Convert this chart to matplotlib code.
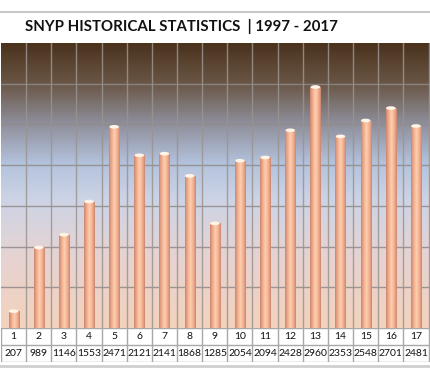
"""
SNYP historical statistics, 1997 - 2017: column chart with a data table under it.
"""

import matplotlib.pyplot as plt
import numpy as np
from matplotlib.colors import LinearSegmentedColormap
from matplotlib.patches import Ellipse

# data
periods = [str(i) for i in range(1, 18)]
counts = [207, 989, 1146, 1553, 2471, 2121, 2141, 1868, 1285,
          2054, 2094, 2428, 2960, 2353, 2548, 2701, 2481]
title = "SNYP HISTORICAL STATISTICS  | 1997 - 2017"

W, H = 430, 372
fig = plt.figure(figsize=(W / 100, H / 100), dpi=100)
fig.patch.set_facecolor("white")

# plot area (pixel positions)
left, right = 1 / W, 1.0
plot_top, plot_bot = 1 - 43 / H, 1 - 328 / H
table_bot = 1 - 362 / H

ax = fig.add_axes([left, plot_bot, right - left, plot_top - plot_bot])
x = np.arange(len(counts))
xmax = -0.5 + (W - 1) / 25.15
ax.set_xlim(-0.5, xmax)
ax.set_ylim(0, 3500)
for s in ax.spines.values():
    s.set_visible(False)
ax.set_xticks([])
ax.set_yticks([])

# background gradient: dark brown at top, blue-grey in middle, peach at bottom
bg = LinearSegmentedColormap.from_list("bg", [
    (0.0, "#f3d2bc"),
    (0.25, "#e6d3d2"),
    (0.45, "#cdd4e6"),
    (0.58, "#b3c2dc"),
    (0.72, "#8e8e9a"),
    (0.86, "#6a5646"),
    (1.0, "#4a321c"),
])
grad = np.linspace(0, 1, 256).reshape(-1, 1)
ax.imshow(grad, cmap=bg, origin="lower", aspect="auto",
          extent=[-0.5, xmax, 0, 3500], zorder=0)

# grid
for yv in range(500, 3500, 500):
    ax.axhline(yv, color="#8f8a88", lw=1.0, alpha=0.85, zorder=1)
for xv in np.arange(0.5, xmax, 1.0):
    ax.axvline(xv, color="#9a9490", lw=1.0, alpha=0.85, zorder=1)

# cylinder-like bars
bars = ax.bar(x, counts, width=0.4, color="#f4b898", zorder=2, linewidth=0)
shade = LinearSegmentedColormap.from_list("bar", [
    (0.0, "#c98670"),
    (0.22, "#eeaa8a"),
    (0.5, "#fdcfb0"),
    (0.78, "#f2ae8e"),
    (1.0, "#c98670"),
])
hgrad = np.linspace(0, 1, 64).reshape(1, -1)
for b in bars:
    bx, bw, bh = b.get_x(), b.get_width(), b.get_height()
    im = ax.imshow(hgrad, cmap=shade, aspect="auto",
                   extent=[bx, bx + bw, 0, bh], zorder=3)
    im.set_clip_path(b)
    ax.add_patch(Ellipse((bx + bw / 2, bh), bw * 0.95, 45,
                         facecolor="#fff4e6", edgecolor="none", zorder=4))

# data table under the plot
tax = fig.add_axes([left, table_bot, right - left, plot_bot - table_bot])
tax.set_xlim(-0.5, xmax)
tax.set_ylim(0, 2)
tax.axis("off")
grid_col = "#a8a8a8"
tax.axhline(0, color=grid_col, lw=1)
tax.axhline(1, color=grid_col, lw=1)
tax.axhline(2, color=grid_col, lw=1)
for xv in np.arange(-0.5, xmax, 1.0):
    tax.axvline(xv, color=grid_col, lw=1)
for xi, (p, c) in enumerate(zip(periods, counts)):
    tax.text(xi, 1.5, p, ha="center", va="center", fontsize=7.5,
             family="Lato", color="#111111")
    tax.text(xi, 0.5, str(c), ha="center", va="center", fontsize=7.5,
             family="Lato", color="#111111")

# frame lines and title
fig.add_artist(plt.Line2D([0, 1], [1 - 12 / H, 1 - 12 / H],
                          color="#bdbdbd", lw=1.2))
fig.add_artist(plt.Line2D([0, 1], [1 - 366 / H, 1 - 366 / H],
                          color="#cfcfcf", lw=2))
fig.text(25 / W, 1 - 27 / H, title, ha="left", va="center",
         fontsize=10.8, fontweight="bold", family="Lato", color="#111111")

fig.savefig("out.png", dpi=100)
plt.close(fig)
